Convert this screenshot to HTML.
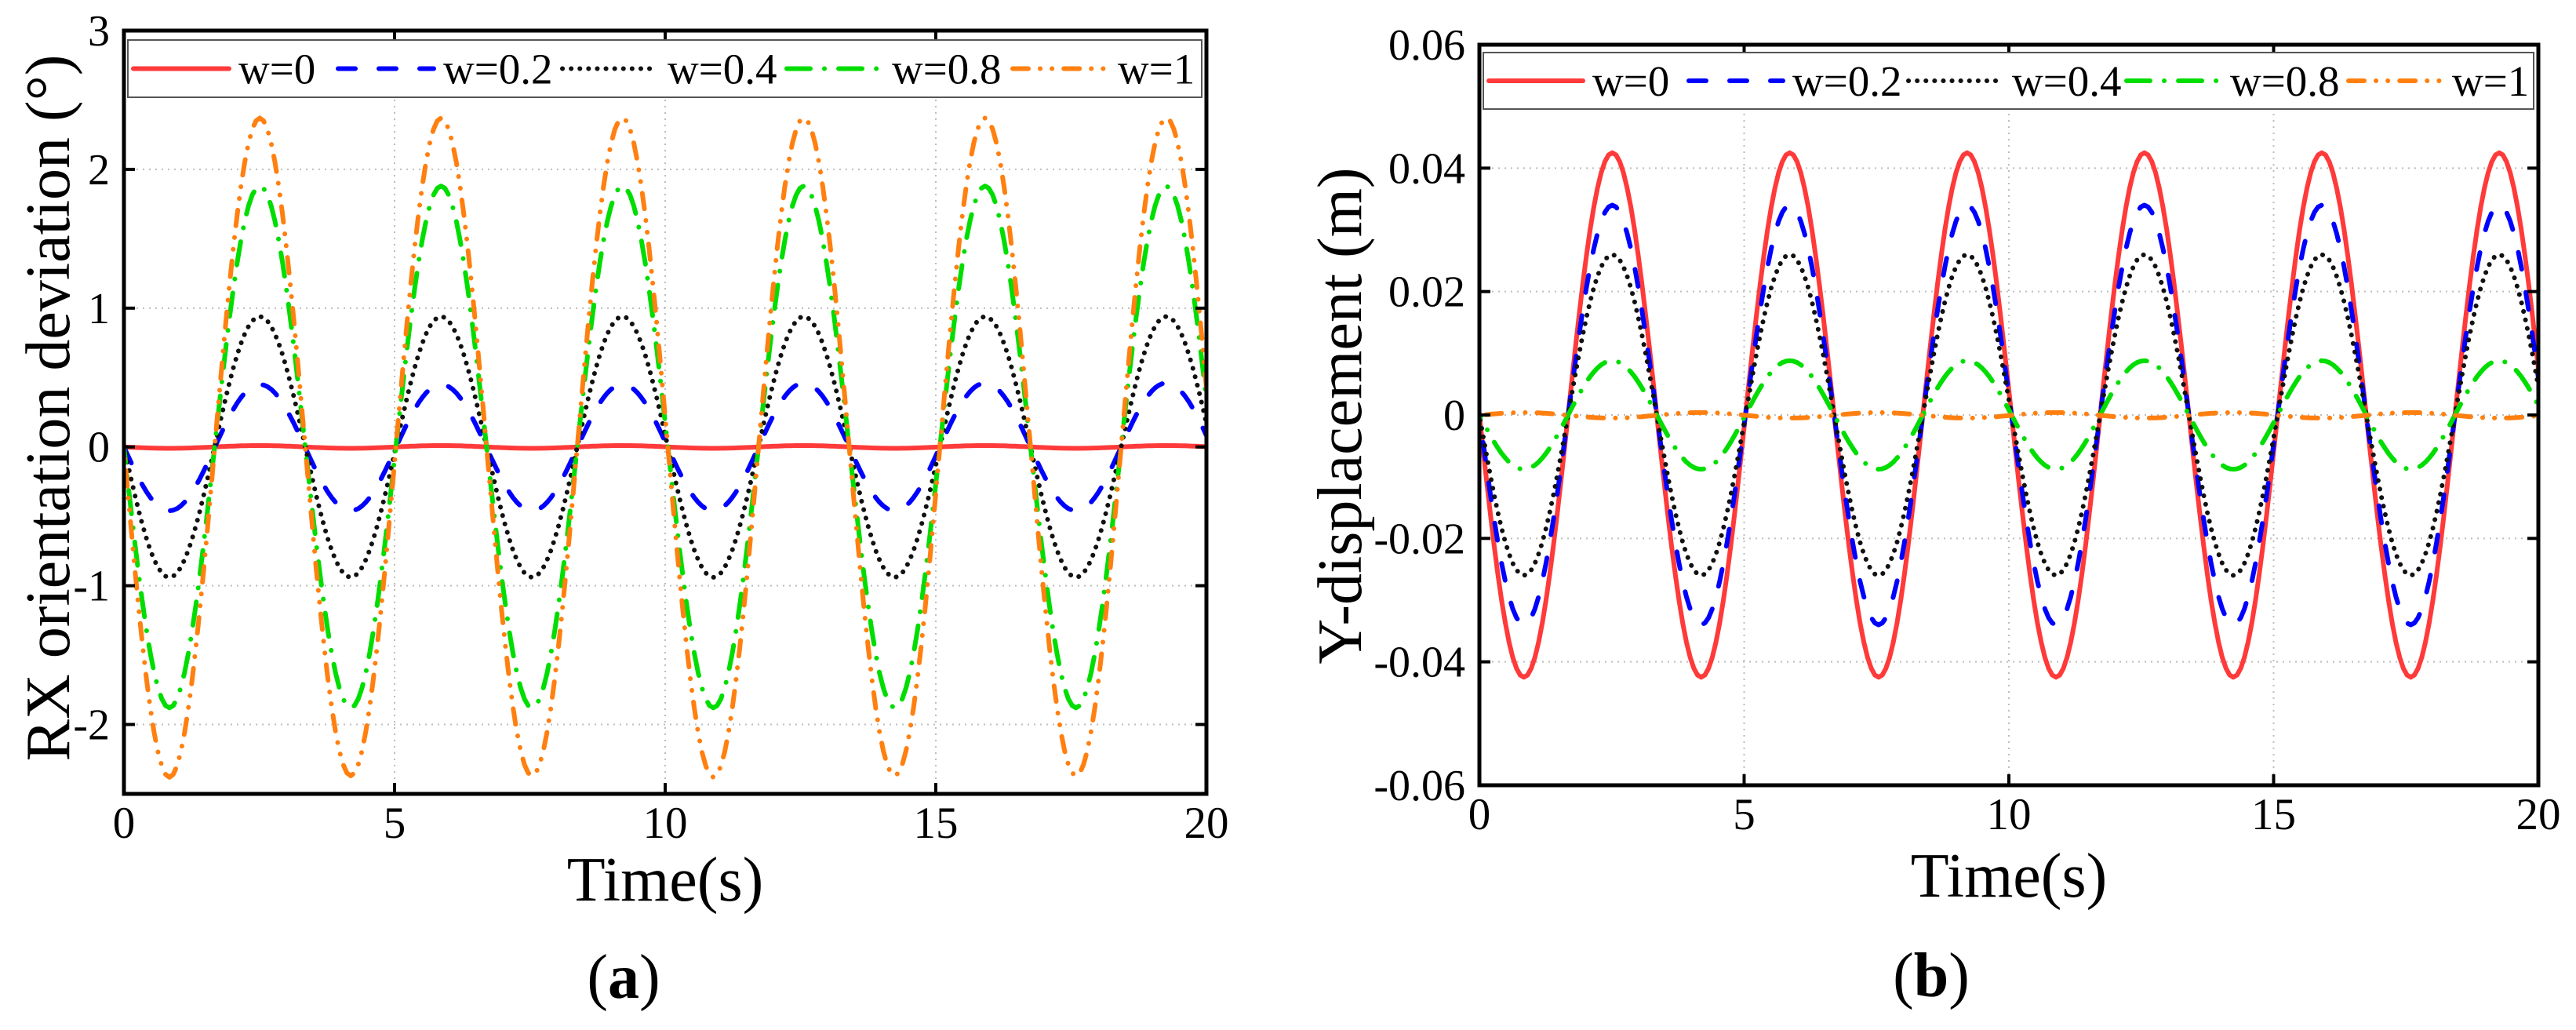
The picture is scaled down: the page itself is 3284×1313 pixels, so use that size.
<!DOCTYPE html>
<html><head><meta charset="utf-8"><title>RX orientation deviation and Y-displacement</title>
<style>
html,body{margin:0;padding:0;background:#fff;}
svg{display:block;font-family:"Liberation Serif","Times New Roman",serif;}
</style></head>
<body>
<svg id="fig" xmlns="http://www.w3.org/2000/svg" width="3284" height="1313" viewBox="0 0 3284 1313"></svg>
<script>
// ---- Data ----
// Times (s) of successive extrema of the oscillation (troughs/peaks), shared by all series
const extremaTimes = [-0.84, 0.84, 2.51, 4.19, 5.86, 7.54, 9.21, 10.89, 12.56, 14.24, 15.91, 17.59, 19.26, 20.93];
const seriesLabels = ["w=0", "w=0.2", "w=0.4", "w=0.8", "w=1"];
// Panel (a): RX orientation deviation (deg) at each extremum
const rxW0   = [0.01, -0.01, 0.01, -0.01, 0.01, -0.01, 0.01, -0.01, 0.01, -0.01, 0.01, -0.01, 0.01, -0.01];
const rxW02  = [0.46, -0.46, 0.45, -0.46, 0.45, -0.46, 0.45, -0.46, 0.46, -0.46, 0.46, -0.46, 0.46, -0.46];
const rxW04  = [0.94, -0.94, 0.94, -0.94, 0.94, -0.94, 0.94, -0.94, 0.94, -0.94, 0.94, -0.94, 0.94, -0.94];
const rxW08  = [1.88, -1.88, 1.88, -1.88, 1.88, -1.88, 1.88, -1.88, 1.88, -1.88, 1.88, -1.88, 1.88, -1.88];
const rxW1   = [2.37, -2.38, 2.37, -2.37, 2.37, -2.37, 2.37, -2.38, 2.37, -2.37, 2.37, -2.37, 2.37, -2.37];
// Panel (b): Y-displacement (m) at each extremum
const yW0    = [0.0425, -0.0425, 0.0425, -0.0425, 0.0425, -0.0425, 0.0425, -0.0425, 0.0425, -0.0425, 0.0425, -0.0425, 0.0425, -0.0425];
const yW02   = [0.034, -0.034, 0.034, -0.034, 0.034, -0.034, 0.034, -0.034, 0.034, -0.034, 0.034, -0.034, 0.034, -0.034];
const yW04   = [0.026, -0.026, 0.026, -0.026, 0.026, -0.026, 0.026, -0.026, 0.026, -0.026, 0.026, -0.026, 0.026, -0.026];
const yW08   = [0.0088, -0.0088, 0.0088, -0.0088, 0.0088, -0.0088, 0.0088, -0.0088, 0.0088, -0.0088, 0.0088, -0.0088, 0.0088, -0.0088];
const yW1    = [-0.0005, 0.0004, -0.0005, 0.0004, -0.0005, 0.0004, -0.0005, 0.0004, -0.0005, 0.0004, -0.0005, 0.0004, -0.0005, 0.0004];
const xTicks = [0, 5, 10, 15, 20];
const xTickLabels = ["0", "5", "10", "15", "20"];
const rxTicks = [3, 2, 1, 0, -1, -2];
const rxTickLabels = ["3", "2", "1", "0", "-1", "-2"];
const yTicks = [0.06, 0.04, 0.02, 0, -0.02, -0.04, -0.06];
const yTickLabels = ["0.06", "0.04", "0.02", "0", "-0.02", "-0.04", "-0.06"];

// ---- Styles ----
const styles = [
  {color:"#ff3a3a", dash:null},
  {color:"#0000ff", dash:"22 30"},
  {color:"#111111", dash:"0.1 11"},
  {color:"#00dd00", dash:"30 18 0.1 18"},
  {color:"#ff8010", dash:"20 15 0.1 15 0.1 15"}
];
const NS = "http://www.w3.org/2000/svg";
const svg = document.getElementById("fig");
function mk(tag, attrs, parent){
  const e = document.createElementNS(NS, tag);
  for (const k in attrs) e.setAttribute(k, attrs[k]);
  (parent||svg).appendChild(e);
  return e;
}

function drawPanel(p){
  const g = mk("g", {});
  
  
  const xs = t => p.left + (t - p.xmin) / (p.xmax - p.xmin) * (p.right - p.left);
  const ys = v => p.top + (p.ymax - v) / (p.ymax - p.ymin) * (p.bottom - p.top);

  // grid
  xTicks.forEach(t => {
    if (t === p.xmin || t === p.xmax) return;
    const l = mk("line", {x1:xs(t), x2:xs(t), y1:p.top, y2:p.bottom, stroke:"#bdbdbd", "stroke-width":2, "stroke-dasharray":"2 6"}, g);
    
    
  });
  p.yTicks.forEach(v => {
    if (v === p.ymax || v === p.ymin) return;
    const l = mk("line", {x1:p.left, x2:p.right, y1:ys(v), y2:ys(v), stroke:"#bdbdbd", "stroke-width":2, "stroke-dasharray":"2 6"}, g);
    
    
  });

  // clip
  const cid = p.name + "-clip";
  const cp = mk("clipPath", {id:cid}, g);
  mk("rect", {x:p.left, y:p.top, width:p.right-p.left, height:p.bottom-p.top}, cp);

  // series
  p.series.forEach((vals, si) => {
    let d = "";
    for (let i = 0; i < extremaTimes.length - 1; i++) {
      const t0 = extremaTimes[i], t1 = extremaTimes[i+1], v0 = vals[i], v1 = vals[i+1];
      const N = 24;
      for (let k = (i === 0 ? 0 : 1); k <= N; k++) {
        const u = k / N;
        const t = t0 + (t1 - t0) * u;
        const v = v0 + (v1 - v0) * (1 - Math.cos(Math.PI * u)) / 2;
        d += (d === "" ? "M" : "L") + xs(t).toFixed(1) + "," + ys(v).toFixed(1);
      }
    }
    const st = styles[si];
    const path = mk("path", {d:d, fill:"none", stroke:st.color, "stroke-width":6, "stroke-linecap":"round", "stroke-linejoin":"round", "clip-path":"url(#"+cid+")"}, g);
    if (st.dash) path.setAttribute("stroke-dasharray", st.dash);
    
    
  });

  // frame
  const fr = mk("rect", {x:p.left, y:p.top, width:p.right-p.left, height:p.bottom-p.top, fill:"none", stroke:"#000", "stroke-width":5}, g);
  
  

  // ticks (inward, mirrored)
  xTicks.forEach((t, i) => {
    const x = xs(t);
    mk("line", {x1:x, x2:x, y1:p.bottom, y2:p.bottom-14, stroke:"#000", "stroke-width":4}, g);
    mk("line", {x1:x, x2:x, y1:p.top, y2:p.top+14, stroke:"#000", "stroke-width":4}, g);
    const tx = mk("text", {x:x, y:p.bottom + 56, "font-size":57, "text-anchor":"middle"}, g);
    tx.textContent = xTickLabels[i];
    
    
  });
  p.yTicks.forEach((v, i) => {
    const y = ys(v);
    mk("line", {x1:p.left, x2:p.left+14, y1:y, y2:y, stroke:"#000", "stroke-width":4}, g);
    mk("line", {x1:p.right, x2:p.right-14, y1:y, y2:y, stroke:"#000", "stroke-width":4}, g);
    const tx = mk("text", {x:p.left - 18, y:y + 19, "font-size":56, "text-anchor":"end"}, g);
    tx.textContent = p.yTickLabels[i];
    
    
  });

  // axis titles
  const xt = mk("text", {x:(p.left+p.right)/2, y:p.xTitleY, "font-size":80, "text-anchor":"middle"}, g);
  xt.textContent = "Time(s)";
  
  
  const yt = mk("text", {x:0, y:0, "font-size":80, "text-anchor":"middle", transform:"translate("+p.yTitleX+","+p.yTitleY+") rotate(-90)"}, g);
  yt.textContent = p.yTitle;
  
  

  // panel label
  const pl = mk("text", {x:p.labelX, y:p.labelY, "font-size":80, "text-anchor":"middle"}, g);
  pl.innerHTML = "(<tspan font-weight='bold'>" + p.label + "</tspan>)";
  
  

  // legend
  const lg = mk("g", {}, g);
  
  
  mk("rect", {x:p.leg.x, y:p.leg.y, width:p.leg.w, height:p.leg.h, fill:"#fff", stroke:"#555", "stroke-width":2}, lg);
  const cy = p.leg.y + p.leg.h/2;
  seriesLabels.forEach((lab, i) => {
    const e = mk("g", {}, lg);
    
    
    const st = styles[i];
    const x0 = p.leg.items[i];
    const ln = mk("line", {x1:x0, x2:x0+p.leg.lineLen, y1:cy, y2:cy, stroke:st.color, "stroke-width":6, "stroke-linecap":"round"}, e);
    if (st.dash) ln.setAttribute("stroke-dasharray", st.dash);
    const t = mk("text", {x:x0 + p.leg.lineLen + 12, y:cy + 19, "font-size":55}, e);
    t.textContent = lab;
  });
}

drawPanel({
  name:"panel-a", left:158, right:1538, top:39, bottom:1012,
  xmin:0, xmax:20, ymin:-2.5, ymax:3,
  yTicks:rxTicks, yTickLabels:rxTickLabels,
  series:[rxW0, rxW02, rxW04, rxW08, rxW1],
  xTitleY:1148, yTitle:"RX orientation deviation (°)", yTitleX:88, yTitleY:520,
  label:"a", labelX:795, labelY:1272,
  leg:{x:163, y:51, w:1369, h:73, lineLen:122, items:[170, 431, 717, 1003, 1291]}
});
drawPanel({
  name:"panel-b", left:1886, right:3236, top:57, bottom:1001,
  xmin:0, xmax:20, ymin:-0.06, ymax:0.06,
  yTicks:yTicks, yTickLabels:yTickLabels,
  series:[yW0, yW02, yW04, yW08, yW1],
  xTitleY:1143, yTitle:"Y-displacement (m)", yTitleX:1735, yTitleY:530,
  label:"b", labelX:2462, labelY:1270,
  leg:{x:1891, y:67, w:1339, h:72, lineLen:120, items:[1898, 2153, 2433, 2711, 2994]}
});
</script>
</body></html>
